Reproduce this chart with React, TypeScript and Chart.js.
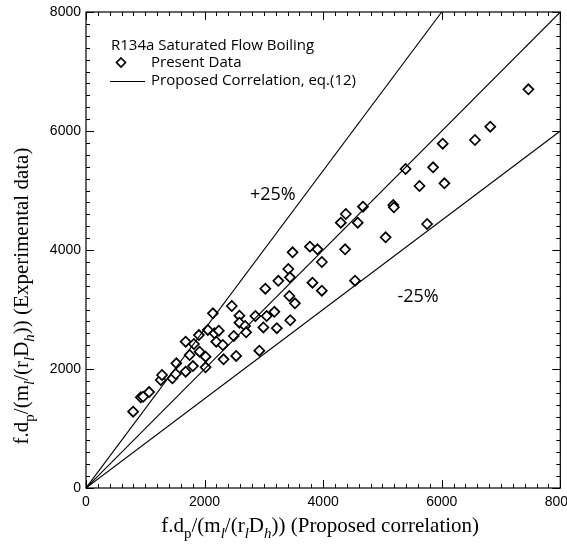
import React, { useEffect, useRef } from "react";
import { Chart, registerables } from "chart.js";

Chart.register(...registerables);

// Present data: proposed correlation (x) vs experimental (y)
const predicted = [
  795, 924, 963, 1064, 1261, 1282, 1457, 1513, 1524, 1681,
  1681, 1748, 1803, 1820, 1904, 1916, 2017, 2017, 2055, 2140,
  2168, 2197, 2240, 2308, 2320, 2459, 2492, 2533, 2588, 2588,
  2684, 2701, 2857, 2924, 2992, 3025, 3047, 3177, 3219, 3244,
  3445, 3429, 3524, 3412, 3440, 3484, 3777, 3904, 3820, 3978,
  3978, 4370, 4538, 4298, 4382, 4583, 4672, 5054, 5182, 5193,
  5753, 5625, 6045, 5390, 5854, 6017, 6560, 6819, 7462,
];
const experimental = [
  1282, 1524, 1534, 1613, 1815, 1899, 1844, 1916, 2096, 1955,
  2459, 2235, 2050, 2420, 2571, 2291, 2207, 2029, 2656, 2936,
  2600, 2459, 2644, 2403, 2163, 3059, 2555, 2219, 2896, 2778,
  2723, 2617, 2891, 2308, 2698, 3350, 2891, 2961, 2686, 3482,
  2819, 3227, 3104, 3681, 3541, 3961, 4056, 4012, 3450, 3316,
  3798, 4012, 3484, 4459, 4605, 4459, 4728, 4213, 4756, 4718,
  4437, 5076, 5121, 5361, 5390, 5787, 5849, 6072, 6701,
];

// Reference lines
const centerLineX = [0, 8000];
const centerLineY = [0, 8000];
const plus25X = [0, 6000];
const plus25Y = [0, 8000];
const minus25X = [0, 8000];
const minus25Y = [0, 6000];

// Axes
const axisMin = 0;
const axisMax = 8000;
const minorStep = 200;
const tickValues = [0, 2000, 4000, 6000, 8000];
const tickLabels = ["0", "2000", "4000", "6000", "8000"];

const legendTitle = "R134a Saturated Flow Boiling";
const legendData = "Present Data";
const legendLine = "Proposed Correlation, eq.(12)";
const plusLabel = "+25%";
const minusLabel = "-25%";

type Seg = { t: string; sub?: boolean; it?: boolean };
const xTitle: Seg[] = [
  { t: "f.d" }, { t: "p", sub: true }, { t: "/(m" }, { t: "l", sub: true, it: true },
  { t: "/(r" }, { t: "l", sub: true, it: true }, { t: "D" }, { t: "h", sub: true, it: true },
  { t: ")) (Proposed correlation)" },
];
const yTitle: Seg[] = [
  { t: "f.d" }, { t: "p", sub: true }, { t: "/(m" }, { t: "l", sub: true, it: true },
  { t: "/(r" }, { t: "l", sub: true, it: true }, { t: "D" }, { t: "h", sub: true, it: true },
  { t: ")) (Experimental data)" },
];

const SERIF = '"Liberation Serif", "Times New Roman", serif';
const SANS = '"Liberation Sans", Arial, sans-serif';
const HUMAN = '"Open Sans", "Noto Sans", sans-serif';

function drawRich(ctx: CanvasRenderingContext2D, segs: Seg[], cx: number, cy: number, size: number) {
  const subSize = Math.round(size * 0.72);
  const fontFor = (s: Seg) => `${s.it ? "italic " : ""}${s.sub ? subSize : size}px ${SERIF}`;
  let total = 0;
  const widths = segs.map((s) => {
    ctx.font = fontFor(s);
    const w = ctx.measureText(s.t).width;
    total += w;
    return w;
  });
  let x = cx - total / 2;
  ctx.textAlign = "left";
  ctx.textBaseline = "alphabetic";
  segs.forEach((s, i) => {
    ctx.font = fontFor(s);
    ctx.fillText(s.t, x, cy + (s.sub ? size * 0.28 : 0));
    x += widths[i];
  });
}

const framePlugin = {
  id: "frame",
  beforeDatasetsDraw(chart: any) {
    const { ctx, chartArea } = chart;
    const xs = chart.scales.x;
    const ys = chart.scales.y;
    const { left, right, top, bottom } = chartArea;
    ctx.save();
    ctx.strokeStyle = "#000";
    ctx.lineWidth = 1.2;
    ctx.strokeRect(left, top, right - left, bottom - top);
    ctx.lineWidth = 1;
    ctx.beginPath();
    for (let v = axisMin; v <= axisMax; v += minorStep) {
      const major = v % 2000 === 0;
      const len = major ? 8 : 4;
      const px = Math.round(xs.getPixelForValue(v)) + 0.5;
      ctx.moveTo(px, bottom);
      ctx.lineTo(px, bottom - len);
      ctx.moveTo(px, top);
      ctx.lineTo(px, top + len);
      const py = Math.round(ys.getPixelForValue(v)) + 0.5;
      ctx.moveTo(left, py);
      ctx.lineTo(left + len, py);
      ctx.moveTo(right, py);
      ctx.lineTo(right - len, py);
    }
    ctx.stroke();
    ctx.restore();
  },
  afterDraw(chart: any) {
    const { ctx, chartArea } = chart;
    const xs = chart.scales.x;
    const ys = chart.scales.y;
    const { left, bottom } = chartArea;
    ctx.save();
    ctx.fillStyle = "#000";
    // tick labels
    ctx.font = `14px ${SANS}`;
    ctx.textAlign = "center";
    ctx.textBaseline = "top";
    tickValues.forEach((v, i) => {
      ctx.fillText(tickLabels[i], xs.getPixelForValue(v), bottom + 7);
    });
    ctx.textAlign = "right";
    ctx.textBaseline = "middle";
    tickValues.forEach((v, i) => {
      ctx.fillText(tickLabels[i], left - 5, ys.getPixelForValue(v));
    });
    // axis titles
    drawRich(ctx, xTitle, (chartArea.left + chartArea.right) / 2 - 3, 532, 21);
    ctx.save();
    ctx.translate(28, 296);
    ctx.rotate(-Math.PI / 2);
    drawRich(ctx, yTitle, 0, 0, 21);
    ctx.restore();
    // legend
    ctx.font = `15px ${HUMAN}`;
    ctx.textAlign = "left";
    ctx.textBaseline = "middle";
    ctx.fillText(legendTitle, 111, 46);
    ctx.fillText(legendData, 151, 63);
    ctx.fillText(legendLine, 151, 81);
    ctx.lineWidth = 1.7;
    ctx.beginPath();
    ctx.moveTo(121, 58);
    ctx.lineTo(125.5, 62.5);
    ctx.lineTo(121, 67);
    ctx.lineTo(116.5, 62.5);
    ctx.closePath();
    ctx.stroke();
    ctx.lineWidth = 1;
    ctx.beginPath();
    ctx.moveTo(110, 81.5);
    ctx.lineTo(145, 81.5);
    ctx.stroke();
    // annotations
    ctx.font = `18px ${HUMAN}`;
    ctx.textAlign = "center";
    ctx.fillText(plusLabel, xs.getPixelForValue(3150), ys.getPixelForValue(4930));
    ctx.fillText(minusLabel, xs.getPixelForValue(5600), ys.getPixelForValue(3220));
    ctx.restore();
  },
};

export default function App() {
  const ref = useRef<HTMLCanvasElement | null>(null);
  useEffect(() => {
    if (!ref.current) return;
    const lineStyle = {
      type: "line" as const,
      borderColor: "#000",
      borderWidth: 1.1,
      pointRadius: 0,
      fill: false,
      showLine: true,
    };
    const chart = new Chart(ref.current, {
      type: "scatter",
      data: {
        datasets: [
          { ...lineStyle, label: "center", data: centerLineX.map((x, i) => ({ x, y: centerLineY[i] })) },
          { ...lineStyle, label: "+25%", data: plus25X.map((x, i) => ({ x, y: plus25Y[i] })) },
          { ...lineStyle, label: "-25%", data: minus25X.map((x, i) => ({ x, y: minus25Y[i] })) },
          {
            label: legendData,
            data: predicted.map((x, i) => ({ x, y: experimental[i] })),
            pointStyle: "rectRot",
            pointRadius: 5,
            pointBorderWidth: 1.7,
            pointBorderColor: "#000",
            pointBackgroundColor: "#fff",
            showLine: false,
          } as any,
        ],
      },
      options: {
        animation: false,
        responsive: false,
        layout: { padding: { left: 86, right: 5, top: 12, bottom: 57 } },
        plugins: { legend: { display: false }, tooltip: { enabled: false } },
        scales: {
          x: { type: "linear", min: axisMin, max: axisMax, display: false },
          y: { type: "linear", min: axisMin, max: axisMax, display: false },
        },
      },
      plugins: [framePlugin],
    });
    return () => chart.destroy();
  }, []);
  return (
    <div style={{ position: "fixed", left: 0, top: 0, width: 567, height: 545, background: "#fff" }}>
      <canvas ref={ref} width={567} height={545} style={{ display: "block" }} />
    </div>
  );
}
